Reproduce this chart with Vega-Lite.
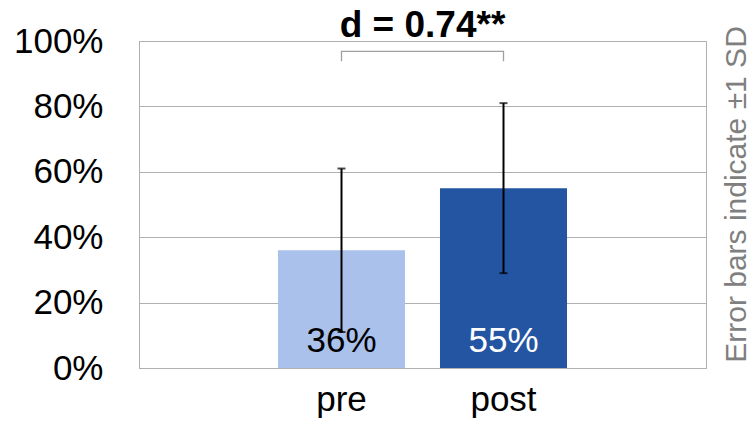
{
  "$schema": "https://vega.github.io/schema/vega-lite/v6.json",
  "width": 567,
  "height": 327,
  "autosize": {"type": "none"},
  "padding": {"left": 139, "top": 41, "right": 48, "bottom": 56},
  "background": "white",
  "title": {"text": "d = 0.74**", "fontSize": 37, "fontWeight": "bold", "font": "Liberation Sans", "color": "black", "anchor": "middle", "frame": "group", "offset": -21},
  "config": {
    "font": "Liberation Sans",
    "view": {"stroke": "#b0b0b0", "strokeWidth": 1},
    "axis": {"gridColor": "#b0b0b0", "domainColor": "#b0b0b0", "labelColor": "black", "labelFont": "Liberation Sans"}
  },
  "datasets": {
    "main": [
      {"phase": "pre", "mean": 36, "lo": 11, "hi": 61, "label": "36%"},
      {"phase": "post", "mean": 55, "lo": 29, "hi": 81, "label": "55%"}
    ],
    "bracket": [
      {"phase": "pre", "v": 93.8, "k": 0},
      {"phase": "pre", "v": 96.8, "k": 1},
      {"phase": "post", "v": 96.8, "k": 2},
      {"phase": "post", "v": 93.8, "k": 3}
    ]
  },
  "resolve": {"axis": {"y": "independent"}},
  "layer": [
    {
      "data": {"name": "main"},
      "mark": {"type": "bar"},
      "encoding": {
        "x": {"field": "phase", "type": "nominal", "sort": ["pre", "post"],
              "scale": {"paddingInner": 0.216, "paddingOuter": 0.858},
              "axis": {"title": null, "labelAngle": 0, "labelFontSize": 35, "ticks": false, "labelPadding": 14, "domainColor": "#b0b0b0"}},
        "y": {"field": "mean", "type": "quantitative",
              "scale": {"domain": [0, 100], "nice": false},
              "axis": {"title": null, "values": [0, 20, 40, 60, 80, 100], "labelExpr": "datum.value + '%'", "labelFontSize": 35, "ticks": false, "labelPadding": 36, "grid": true}},
        "color": {"field": "phase", "type": "nominal", "scale": {"domain": ["pre", "post"], "range": ["#A9C1EB", "#2455A2"]}, "legend": null}
      }
    },
    {
      "data": {"name": "main"},
      "mark": {"type": "rule", "color": "black", "strokeWidth": 2},
      "encoding": {
        "x": {"field": "phase", "type": "nominal", "sort": ["pre", "post"]},
        "y": {"field": "lo", "type": "quantitative", "axis": null},
        "y2": {"field": "hi"}
      }
    },
    {
      "data": {"name": "main"},
      "mark": {"type": "tick", "color": "black", "size": 8, "thickness": 2},
      "encoding": {
        "x": {"field": "phase", "type": "nominal", "sort": ["pre", "post"]},
        "y": {"field": "lo", "type": "quantitative", "axis": null}
      }
    },
    {
      "data": {"name": "main"},
      "mark": {"type": "tick", "color": "black", "size": 8, "thickness": 2},
      "encoding": {
        "x": {"field": "phase", "type": "nominal", "sort": ["pre", "post"]},
        "y": {"field": "hi", "type": "quantitative", "axis": null}
      }
    },
    {
      "data": {"name": "main"},
      "mark": {"type": "text", "fontSize": 35, "baseline": "alphabetic", "align": "center", "dy": -16},
      "encoding": {
        "x": {"field": "phase", "type": "nominal", "sort": ["pre", "post"]},
        "y": {"datum": 0, "type": "quantitative", "axis": null},
        "text": {"field": "label"},
        "color": {"condition": {"test": "datum.phase === 'post'", "value": "white"}, "value": "black"}
      }
    },
    {
      "data": {"name": "bracket"},
      "mark": {"type": "line", "color": "#a0a0a0", "strokeWidth": 1.3},
      "encoding": {
        "x": {"field": "phase", "type": "nominal", "sort": ["pre", "post"]},
        "y": {"field": "v", "type": "quantitative",
              "axis": {"orient": "right", "labels": false, "ticks": false, "domain": false, "grid": false,
                       "title": "Error bars indicate ±1 SD", "titleFontSize": 30, "titleColor": "#7f7f7f",
                       "titleFontWeight": "normal", "titleAngle": 270, "titleBaseline": "top", "titlePadding": 15, "titleY": 153, "titleFont": "Liberation Sans"}},
        "order": {"field": "k", "type": "quantitative"}
      }
    }
  ]
}
